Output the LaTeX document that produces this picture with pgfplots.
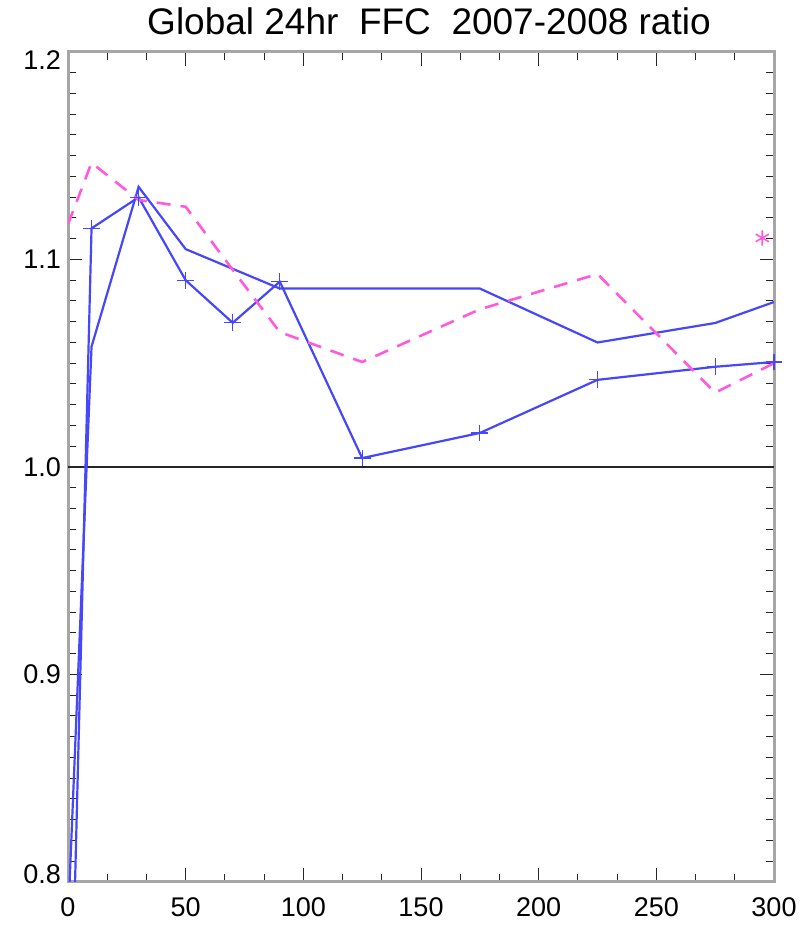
\documentclass[border=0pt]{standalone}
\usepackage{fontspec}
\setmainfont{Liberation Sans}
\usepackage{pgfplots}
\pgfplotsset{compat=1.18}
\definecolor{lblue}{RGB}{70,70,250}
\definecolor{lpink}{RGB}{255,90,220}
\begin{document}
\begin{tikzpicture}
\useasboundingbox (-34pt,-21.5pt) rectangle (371pt,441pt);
\begin{axis}[
  scale only axis, width=353pt, height=415pt,
  xmin=0, xmax=300, ymin=0.8, ymax=1.2,
  xtick={0,50,100,150,200,250,300}, minor x tick num=2,
  ytick={0.8,0.9,1.0,1.1,1.2}, minor y tick num=9,
  tick align=inside, major tick length=7pt, minor tick length=4pt,
  tick style={gray!30!black, line width=0.5pt},
  axis line style={gray!70, line width=1.5pt},
  /pgf/number format/assume math mode=true,
  yticklabel style={/pgf/number format/fixed, /pgf/number format/fixed zerofill, /pgf/number format/precision=1},
  yticklabel style={yshift={\ticknum==0 ? 4 : (\ticknum==4 ? -4 : 0)}},
  tick label style={font=\fontsize{13.5}{15}\selectfont},
  xticklabel style={yshift=-4.5pt},
  title={Global 24hr\ \ FFC\ \ 2007-2008 ratio},
  title style={at={(0.5,1)}, anchor=base, yshift=2.5pt, xshift=4pt, font=\fontsize{18.5}{20}\selectfont},
]
\addplot[black!85, line width=0.8pt] coordinates {(0,1) (300,1)};
% series A (with + marks)
\addplot[lblue, line width=1.1pt, mark=+, mark size=4.2pt, mark options={line width=0.6pt, solid}] coordinates {
  (0,0.665) (10,1.115) (30,1.130) (50,1.090) (70,1.0695) (90,1.0893)
  (125,1.0043) (175,1.0164) (225,1.042) (275,1.0483) (300,1.0506)};
% series B
\addplot[lblue, line width=1.1pt] coordinates {
  (0,0.781) (10,1.058) (30,1.135) (50,1.105) (70,1.0955) (90,1.086)
  (175,1.086) (225,1.060) (275,1.0694) (300,1.0795)};
% pink dashed
\addplot[lpink, line width=1.3pt, dash pattern=on 7pt off 5pt] coordinates {
  (0,1.117) (10,1.1466) (30,1.1287) (50,1.1254) (70,1.095) (90,1.065)
  (125,1.0506) (175,1.076) (225,1.093) (275,1.0358) (300,1.050)};
\addplot[lpink, only marks, mark=asterisk, mark size=3.8pt, mark options={line width=0.8pt}] coordinates {(295,1.1104)};
\end{axis}
\end{tikzpicture}
\end{document}
